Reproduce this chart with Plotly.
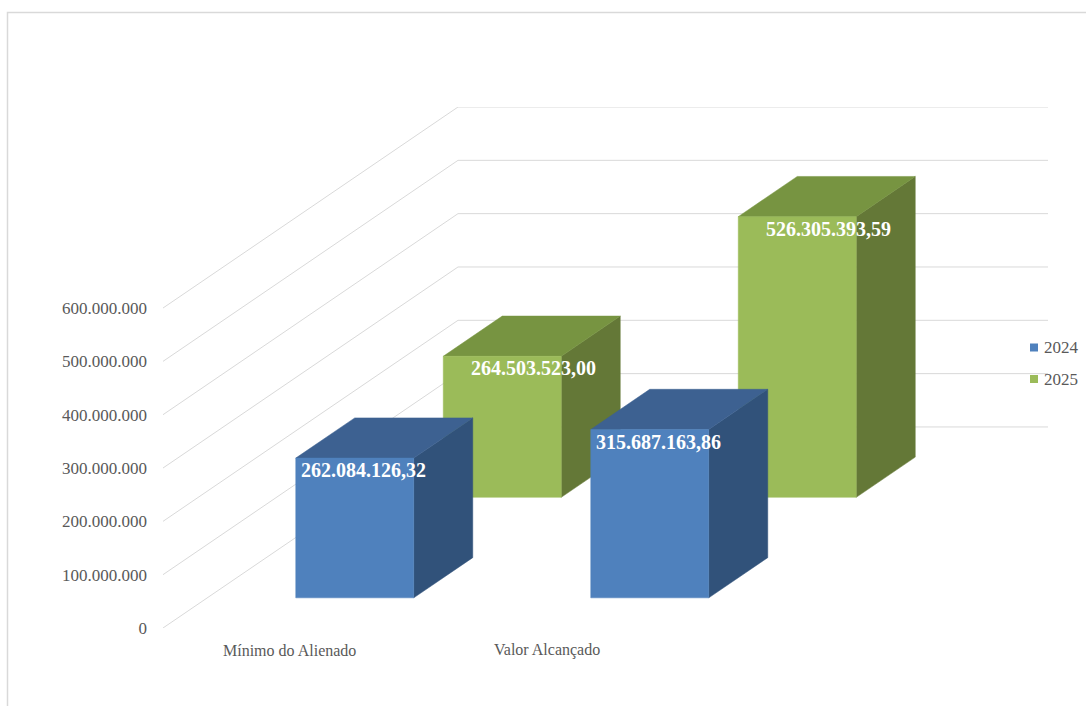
import plotly.graph_objects as go

# ---- data ----
categories = ["Mínimo do Alienado", "Valor Alcançado"]
series_names = ["2024", "2025"]
values_2024 = [262084126.32, 315687163.86]
values_2025 = [264503523.00, 526305393.59]
y_ticks = [0, 100000000, 200000000, 300000000, 400000000, 500000000, 600000000]

# ---- styling ----
FONT = "Liberation Serif"
GRID = "#D9D9D9"
TXT = "#595959"
colors = {
    "2024": {"front": "#4F81BD", "top": "#3D6191", "side": "#31527A", "legend": "#4F81BD"},
    "2025": {"front": "#9BBB59", "top": "#779441", "side": "#647837", "legend": "#9BBB59"},
}

W, H = 1086, 706
ML, MR, MT, MB = 163, 38, 107, 78
PW, PH = W - ML - MR, H - MT - MB
XMAX = 3.0                      # 2 categories + 1 depth unit
YMAX = 977e6                    # value units spanning plot height
DY = YMAX - max(y_ticks)        # vertical shift of one full depth unit (value units)
BAR_W = 0.4
BAR_D = 0.2


def P(c, d, v):
    """oblique projection: category pos, depth pos, value -> plot coordinates"""
    return c + d, v + d * DY


def px_to_paper_x(px):
    return (px - ML) / PW


def px_to_paper_y(py):
    return (H - MB - py) / PH


def fmt_br(v):
    s = f"{v:,.2f}"
    return s.replace(",", "X").replace(".", ",").replace("X", ".")


fig = go.Figure()

# gridlines: left wall (oblique) + back wall (horizontal)
for v in y_ticks:
    pts = [P(0, 0, v), P(0, 1, v), P(2, 1, v)]
    fig.add_trace(go.Scatter(
        x=[p[0] for p in pts], y=[p[1] for p in pts], mode="lines",
        line=dict(color=GRID, width=1), showlegend=False, hoverinfo="skip"))

series = {"2024": values_2024, "2025": values_2025}
annotations = []
shapes = []
label_xshift = {"2024": 9, "2025": 31}

# draw back series first
for s_idx in [1, 0]:
    name = series_names[s_idx]
    vals = series[name]
    d0 = 0.25 + 0.5 * s_idx - BAR_D / 2
    d1 = d0 + BAR_D
    for i, v in enumerate(vals):
        c0 = i + 0.5 - BAR_W / 2
        c1 = c0 + BAR_W
        faces = [
            ("side", [P(c1, d0, 0), P(c1, d1, 0), P(c1, d1, v), P(c1, d0, v)]),
            ("top", [P(c0, d0, v), P(c1, d0, v), P(c1, d1, v), P(c0, d1, v)]),
            ("front", [P(c0, d0, 0), P(c1, d0, 0), P(c1, d0, v), P(c0, d0, v)]),
        ]
        for face, pts in faces:
            xs = [p[0] for p in pts] + [pts[0][0]]
            ys = [p[1] for p in pts] + [pts[0][1]]
            col = colors[name][face]
            fig.add_trace(go.Scatter(
                x=xs, y=ys, mode="lines", fill="toself", fillcolor=col,
                line=dict(color=col, width=0.5), showlegend=False, hoverinfo="skip",
                name=name))
        lx, ly = P(i + 0.5, d0, v)
        annotations.append(dict(
            x=lx, y=ly, xref="x", yref="y", text=fmt_br(v), showarrow=False,
            xshift=label_xshift[name], yshift=-12,
            font=dict(family=FONT, size=20, color="white", weight="bold")))

# legend (drawn manually to match the compact Excel-style key)
legend_y_px = [347.5, 379.0]
for k, name in enumerate(series_names):
    yc = legend_y_px[k]
    shapes.append(dict(type="rect", xref="paper", yref="paper",
                       x0=px_to_paper_x(1030), x1=px_to_paper_x(1038),
                       y0=px_to_paper_y(yc + 4), y1=px_to_paper_y(yc - 4),
                       fillcolor=colors[name]["legend"], line=dict(width=0)))
    annotations.append(dict(
        x=px_to_paper_x(1042), y=px_to_paper_y(yc), xref="paper", yref="paper",
        text=name, showarrow=False, xanchor="left", yanchor="middle",
        font=dict(family=FONT, size=17, color=TXT)))

# category labels
cat_xshift = [-21.5, -58.5]
for i, cat in enumerate(categories):
    annotations.append(dict(
        x=i + 0.5, y=0, xref="x", yref="paper", text=cat, showarrow=False,
        xshift=cat_xshift[i], yshift=-22, yanchor="middle",
        font=dict(family=FONT, size=16, color=TXT)))

# chart border
shapes.append(dict(type="rect", xref="paper", yref="paper",
                   x0=px_to_paper_x(7.5), x1=px_to_paper_x(W + 10),
                   y0=px_to_paper_y(H + 10), y1=px_to_paper_y(12.5),
                   line=dict(color=GRID, width=1.5), layer="below"))

fig.update_layout(
    width=W, height=H,
    margin=dict(l=ML, r=MR, t=MT, b=MB),
    paper_bgcolor="white", plot_bgcolor="white",
    separators=",.",
    hovermode=False,
    showlegend=False,
    annotations=annotations,
    shapes=shapes,
    font=dict(family=FONT, color=TXT),
    xaxis=dict(range=[0, XMAX], visible=False, fixedrange=True),
    yaxis=dict(range=[0, YMAX], tickvals=y_ticks, tickformat=",.0f",
               showgrid=False, zeroline=False, showline=False, ticks="",
               ticklabelstandoff=15,
               tickfont=dict(family=FONT, size=17, color=TXT), fixedrange=True),
)

fig.write_html("out.html")
